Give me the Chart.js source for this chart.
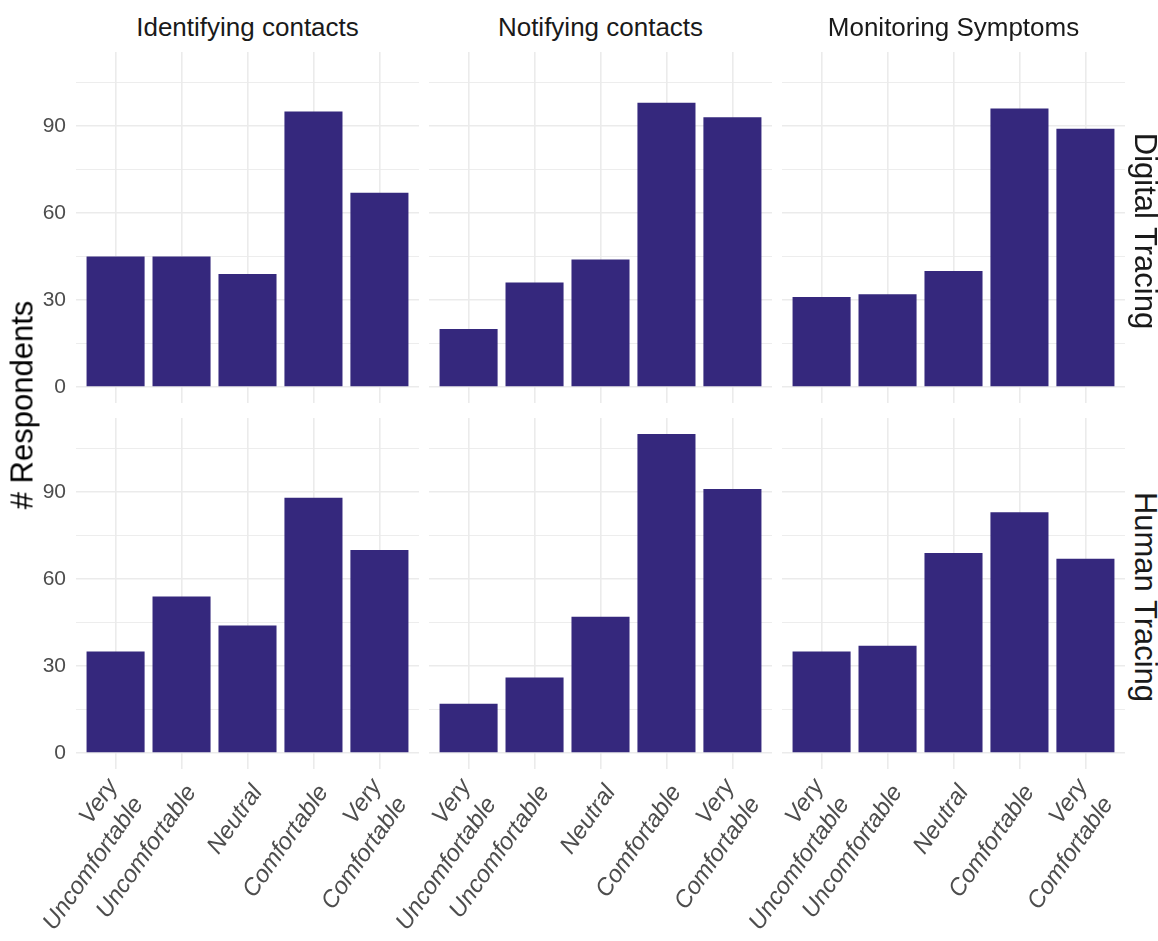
<!DOCTYPE html>
<html><head><meta charset="utf-8">
<script src="https://cdn.jsdelivr.net/npm/chart.js@4/dist/chart.umd.min.js"></script>
<style>
html,body{margin:0;padding:0;background:#fff;}
#wrap{position:relative;width:1158px;height:941px;overflow:hidden;font-family:"Liberation Sans",Arial,sans-serif;background:#fff;}
#wrap canvas{position:absolute;}
.lbl{position:absolute;white-space:nowrap;line-height:1;color:#1a1a1a;}
</style></head><body><div id="wrap"></div>
<script>
// ---- data ----
const categories = [['Very','Uncomfortable'], 'Uncomfortable', 'Neutral', 'Comfortable', ['Very','Comfortable']];
const tasks = ['Identifying contacts', 'Notifying contacts', 'Monitoring Symptoms'];
const tracingTypes = ['Digital Tracing', 'Human Tracing'];
const digitalIdentifying = [45, 45, 39, 95, 67];
const digitalNotifying   = [20, 36, 44, 98, 93];
const digitalMonitoring  = [31, 32, 40, 96, 89];
const humanIdentifying   = [35, 54, 44, 88, 70];
const humanNotifying     = [17, 26, 47, 110, 91];
const humanMonitoring    = [35, 37, 69, 83, 67];
const yMajorTicks = [0, 30, 60, 90];
const yMinorTicks = [15, 45, 75, 105];
const yAxisTitle = '# Respondents';

// ---- styles / layout ----
const FF = '"Liberation Sans", Arial, sans-serif';
const barColor = '#35287d';
const gridColor = '#ebebeb';
const colLeft = [76, 429, 782];
const colW = 343;
const rowTop = [52, 418];
const rowH = 351;
const xLabelH = 941 - (418 + 351);
const yAxisW = [76, 80, 80];
const yMin = -5.5, yMax = 115.5;
const xMin = 0.4, xMax = 5.6;
const labelRot = 55;
const labelFontSize = 24;
const labelLineH = 1.3;
const singleShiftPx = 10, singlePad = 10;
const wrap = document.getElementById('wrap');

const panelValues = [
  [digitalIdentifying, digitalNotifying, digitalMonitoring],
  [humanIdentifying, humanNotifying, humanMonitoring]
];
const xPositions = categories.map((_, i) => i + 1);
const singleIdx = xPositions.filter(p => !Array.isArray(categories[p - 1]));
const multiIdx = xPositions.filter(p => Array.isArray(categories[p - 1]));

// centre two-line blocks on the same point as single-line labels
const Lh = labelFontSize * labelLineH;
const rr = labelRot * Math.PI / 180;
const multiShiftPx = singleShiftPx - (Lh / 2) * Math.sin(rr);
const multiPad = singlePad - (Lh / 2) * Math.cos(rr) + 3;

function labelAxis(positions, shiftPx, pad, weight, height, unitPx) {
  const shift = shiftPx / unitPx;
  return {
    type: 'linear', min: xMin - shift, max: xMax - shift, position: 'bottom', offset: false, weight,
    grid: { display: false, drawTicks: false, offset: false },
    border: { display: false },
    ticks: { autoSkip: false, minRotation: labelRot, maxRotation: labelRot, padding: pad, color: '#4d4d4d',
      font: { family: FF, size: labelFontSize, style: 'italic', lineHeight: labelLineH },
      callback: v => categories[Math.round(v) - 1] },
    afterBuildTicks: s => { s.ticks = positions.map(v => ({ value: v })); },
    afterFit: s => { s.height = height; s.paddingLeft = 0; s.paddingRight = 0; }
  };
}

// the zero-height label axis shares the space of the other label axis
const labelAreaPlugin = {
  id: 'labelArea',
  afterLayout(chart) {
    const s = chart.scales.xs;
    if (s) s.bottom = chart.height;
  }
};

function makePanel(r, c) {
  const values = panelValues[r][c];
  const cv = document.createElement('canvas');
  const left = colLeft[c] - yAxisW[c];
  const top = rowTop[r];
  const w = yAxisW[c] + colW;
  const h = rowH + (r === 1 ? xLabelH : 0);
  cv.width = w; cv.height = h;
  cv.style.left = left + 'px'; cv.style.top = top + 'px';
  cv.style.width = w + 'px'; cv.style.height = h + 'px';
  wrap.appendChild(cv);
  const unitPx = colW / (xMax - xMin);
  const scales = {
    x: {
      type: 'linear', min: xMin, max: xMax, position: 'bottom', offset: false, weight: 0,
      grid: { color: gridColor, lineWidth: 1.6, drawTicks: false, offset: false },
      border: { display: false },
      ticks: { display: false },
      afterBuildTicks: s => { s.ticks = xPositions.map(v => ({ value: v })); },
      afterFit: s => { s.height = 0; s.paddingLeft = 0; s.paddingRight = 0; }
    },
    y: {
      type: 'linear', min: yMin, max: yMax, position: 'left',
      grid: { color: gridColor, drawTicks: false,
        lineWidth: ctx => (ctx.tick && yMajorTicks.includes(ctx.tick.value)) ? 1.6 : 0.9 },
      border: { display: false },
      ticks: { display: c === 0, padding: 10, color: '#4d4d4d', font: { family: FF, size: 21 },
        callback: v => yMajorTicks.includes(v) ? String(v) : '' },
      afterBuildTicks: s => { s.ticks = [...yMajorTicks, ...yMinorTicks].sort((a, b) => a - b).map(v => ({ value: v })); },
      afterFit: s => { s.width = yAxisW[c]; s.paddingTop = 0; s.paddingBottom = 0; }
    }
  };
  if (r === 1) {
    scales.xs = labelAxis(singleIdx, singleShiftPx, singlePad, 1, 0, unitPx);
    scales.xm = labelAxis(multiIdx, multiShiftPx, multiPad, 2, xLabelH, unitPx);
  }
  new Chart(cv, {
    type: 'bar',
    data: {
      datasets: [{
        data: values.map((v, i) => ({ x: xPositions[i], y: v })),
        backgroundColor: barColor, borderWidth: 0,
        categoryPercentage: 0.88, barPercentage: 1.0,
        xAxisID: 'x', yAxisID: 'y'
      }]
    },
    options: {
      responsive: false, animation: false, devicePixelRatio: 1,
      layout: { padding: 0, autoPadding: false },
      plugins: { legend: { display: false }, tooltip: { enabled: false }, title: { display: false } },
      scales
    },
    plugins: [labelAreaPlugin]
  });
}

for (let r = 0; r < 2; r++) for (let c = 0; c < 3; c++) makePanel(r, c);

function addLabel(text, cx, cy, size, rot, color) {
  const d = document.createElement('div');
  d.className = 'lbl';
  d.textContent = text;
  d.style.fontSize = size + 'px';
  d.style.left = cx + 'px'; d.style.top = cy + 'px';
  d.style.color = color || '#1a1a1a';
  d.style.transform = 'translate(-50%,-50%)' + (rot ? ' rotate(' + rot + 'deg)' : '');
  wrap.appendChild(d);
}
tasks.forEach((t, c) => addLabel(t, colLeft[c] + colW / 2, 27, 26, 0));
tracingTypes.forEach((t, r) => addLabel(t, 1145, rowTop[r] + rowH / 2 + 3, 31, 90));
addLabel(yAxisTitle, 22, 405, 31, -90, '#000');
</script></body></html>
